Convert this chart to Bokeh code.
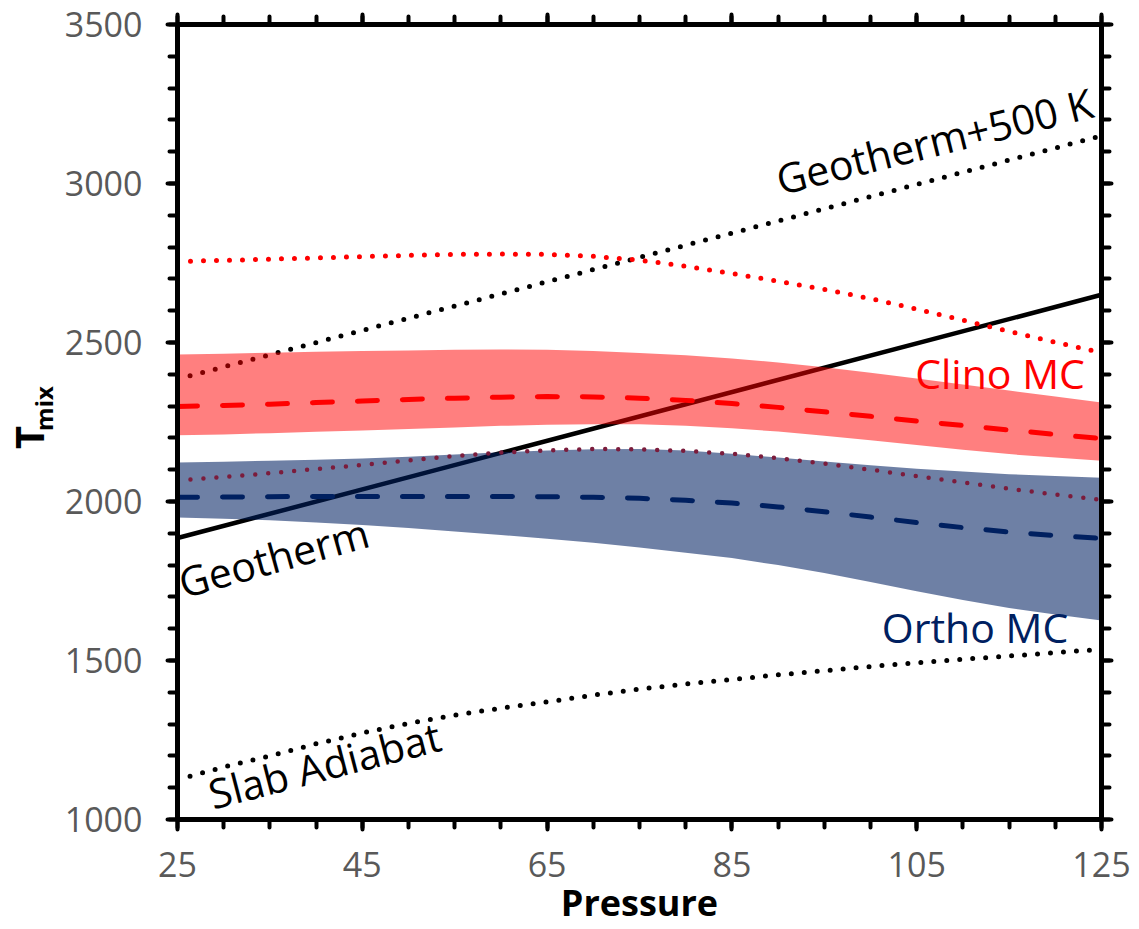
import math
from bokeh.plotting import figure
from bokeh.layouts import row
from bokeh.models import LinearAxis, FixedTicker, Label, Range1d, CustomJSTickFormatter
from bokeh.embed import file_html
from bokeh.resources import INLINE

# ---------------- data ----------------
P = [25, 30, 35, 40, 45, 50, 55, 60, 65, 70, 75, 80, 85, 90, 95, 100, 105, 110, 115, 120, 125]
geo_P = [25, 125]
geotherm_T = [1885, 2650]
geotherm500_T = [2385, 3150]
slab_T = [1125, 1165, 1200, 1238, 1272, 1302, 1328, 1350, 1370, 1391, 1410,
          1426, 1440, 1455, 1468, 1481, 1493, 1504, 1514, 1525, 1535]

clino_dot = [2755, 2758, 2762, 2766, 2770, 2774, 2777, 2778, 2777, 2771, 2759,
             2740, 2717, 2693, 2667, 2638, 2605, 2570, 2535, 2501, 2468]
clino_hi = [2462, 2465, 2468, 2471, 2473, 2475, 2477, 2478, 2477, 2473, 2467,
            2460, 2450, 2437, 2422, 2405, 2387, 2368, 2349, 2330, 2311]
clino_lo = [2208, 2211, 2215, 2219, 2223, 2228, 2233, 2238, 2241, 2243, 2243,
            2238, 2230, 2220, 2207, 2193, 2178, 2163, 2149, 2138, 2128]
clino_mid = [2299, 2302, 2306, 2311, 2316, 2321, 2325, 2328, 2330, 2329, 2325,
             2318, 2308, 2296, 2282, 2268, 2253, 2239, 2225, 2211, 2198]

ortho_dot = [2066, 2077, 2089, 2102, 2115, 2129, 2143, 2154, 2161, 2165, 2164,
             2159, 2150, 2136, 2119, 2100, 2080, 2060, 2040, 2022, 2005]
ortho_hi = [2123, 2125, 2128, 2131, 2135, 2141, 2148, 2155, 2160, 2164, 2165,
            2160, 2150, 2138, 2126, 2114, 2103, 2094, 2086, 2080, 2075]
ortho_lo = [1950, 1946, 1941, 1934, 1926, 1917, 1906, 1895, 1883, 1870, 1855,
            1839, 1822, 1800, 1775, 1747, 1718, 1690, 1665, 1645, 1626]
ortho_mid = [2013, 2014, 2015, 2016, 2016, 2016, 2016, 2016, 2015, 2013, 2010,
             2004, 1995, 1983, 1968, 1951, 1934, 1918, 1904, 1893, 1884]

x_major = [25, 45, 65, 85, 105, 125]
x_minor = list(range(25, 126, 5))
y_major = [1000, 1500, 2000, 2500, 3000, 3500]
y_minor = list(range(1000, 3501, 100))

y_title = "T"
y_title_sub = "mix"

RED = "#FF0000"
NAVY = "#002060"
MAROON = "#7B1C3C"
FONT = "Open Sans"

LEFT_W = 60
W, H = 1139, 929
FRAME_BOTTOM = 820  # row layout aligns the strip's frame with the main frame

p = figure(width=W - LEFT_W, height=H, output_backend="svg", toolbar_location=None,
           x_range=Range1d(25, 125), y_range=Range1d(1000, 3500),
           min_border_left=177 - LEFT_W, min_border_right=38, min_border_top=24,
           min_border_bottom=110, x_axis_location=None, y_axis_location=None)
p.grid.visible = False
p.outline_line_color = None
p.background_fill_color = "white"
p.border_fill_color = "white"


def style_axis(ax, labels=True):
    ax.axis_line_width = 5
    ax.axis_line_color = "black"
    ax.major_tick_line_width = 4
    ax.minor_tick_line_width = 4
    ax.major_tick_line_color = "black"
    ax.minor_tick_line_color = "black"
    ax.major_tick_in = 0
    ax.minor_tick_in = 0
    ax.major_tick_out = 10
    ax.minor_tick_out = 8
    ax.major_tick_line_cap = "round"
    ax.minor_tick_line_cap = "round"
    if labels:
        ax.major_label_text_font = FONT
        ax.major_label_text_font_size = "34px"
        ax.major_label_text_color = "#595959"
    else:
        ax.formatter = CustomJSTickFormatter(code="return ''")
        ax.major_label_text_font_size = "1px"
        ax.major_label_standoff = 0


xb = LinearAxis(ticker=FixedTicker(ticks=x_major, minor_ticks=x_minor))
style_axis(xb)
xb.major_label_standoff = 22
xb.axis_label = "Pressure"
xb.axis_label_text_font = FONT
xb.axis_label_text_font_size = "36px"
xb.axis_label_text_font_style = "bold"
xb.axis_label_text_color = "black"
xb.axis_label_standoff = -2
p.add_layout(xb, "below")

yl = LinearAxis(ticker=FixedTicker(ticks=y_major, minor_ticks=y_minor))
style_axis(yl)
yl.major_label_standoff = 25
p.add_layout(yl, "left")

xt = LinearAxis(ticker=FixedTicker(ticks=x_major, minor_ticks=x_minor))
style_axis(xt, labels=False)
p.add_layout(xt, "above")

yr = LinearAxis(ticker=FixedTicker(ticks=y_major, minor_ticks=y_minor))
style_axis(yr, labels=False)
p.add_layout(yr, "right")

# ---------------- lines under the bands ----------------
p.line(geo_P, geotherm_T, line_color="black", line_width=4.5)
p.line(geo_P, geotherm500_T, line_color="black", line_width=5, line_dash="0 13", line_cap="round")
p.line(P, slab_T, line_color="black", line_width=5, line_dash="0 13", line_cap="round")

# ---------------- bands ----------------
p.varea(x=P, y1=clino_lo, y2=clino_hi, fill_color=RED, fill_alpha=0.5)
p.varea(x=P, y1=ortho_lo, y2=ortho_hi, fill_color=NAVY, fill_alpha=0.57)

# ---------------- lines over the bands ----------------
p.line(P, clino_mid, line_color=RED, line_width=5, line_dash="20 25", line_cap="round")
p.line(P, ortho_mid, line_color=NAVY, line_width=5, line_dash="20 25", line_cap="round")
p.line(P, clino_dot, line_color=RED, line_width=5, line_dash="0 13", line_cap="round")
p.line(P, ortho_dot, line_color=MAROON, line_width=4.5, line_dash="0 13", line_cap="round")

# ---------------- text ----------------
SHIFT = 13  # text box bottom sits below the alphabetic baseline


def add_label(text, x, y, angle_deg=0, color="black", align="left", size="41px"):
    a = math.radians(angle_deg)
    p.add_layout(Label(x=x, y=y, text=text, angle=a,
                       x_offset=-SHIFT * math.sin(a), y_offset=SHIFT * math.cos(a),
                       text_font=FONT, text_font_size=size, text_color=color,
                       text_align=align, text_baseline="alphabetic"))


add_label("Geotherm+500 K", 90.2, 2972, 14)
add_label("Geotherm", 25.6, 1704, 15.5)
add_label("Slab Adiabat", 28.8, 1040, 14.5)
add_label("Clino MC", 123.2, 2362, 0, RED, "right")
add_label("Ortho MC", 121.4, 1563, 0, NAVY, "right")

# ---------------- y-axis title T_mix in a narrow strip on the left ----------------
pt = figure(width=LEFT_W, height=H, output_backend="svg", toolbar_location=None,
            min_border=0, min_border_left=0, min_border_right=0,
            min_border_top=0, min_border_bottom=0,
            x_axis_location=None, y_axis_location=None)
pt.x_range = Range1d(0, LEFT_W)
pt.y_range = Range1d(0, H)
pt.grid.visible = False
pt.outline_line_color = None
pt.border_fill_color = "white"
# screen-unit labels (x from the strip's left edge, y up from the aligned frame bottom)
pt.add_layout(Label(x=28, y=FRAME_BOTTOM - 438, x_units="screen", y_units="screen",
                    text=y_title, angle=math.pi / 2, text_font=FONT,
                    text_font_size="40px", text_font_style="bold", text_color="black",
                    text_align="center", text_baseline="middle"))
pt.add_layout(Label(x=43, y=FRAME_BOTTOM - 409, x_units="screen", y_units="screen",
                    text=y_title_sub, angle=math.pi / 2, text_font=FONT,
                    text_font_size="24px", text_font_style="bold", text_color="black",
                    text_align="center", text_baseline="middle"))

layout = row(pt, p, spacing=0)
open("out.html", "w").write(file_html(layout, INLINE))
